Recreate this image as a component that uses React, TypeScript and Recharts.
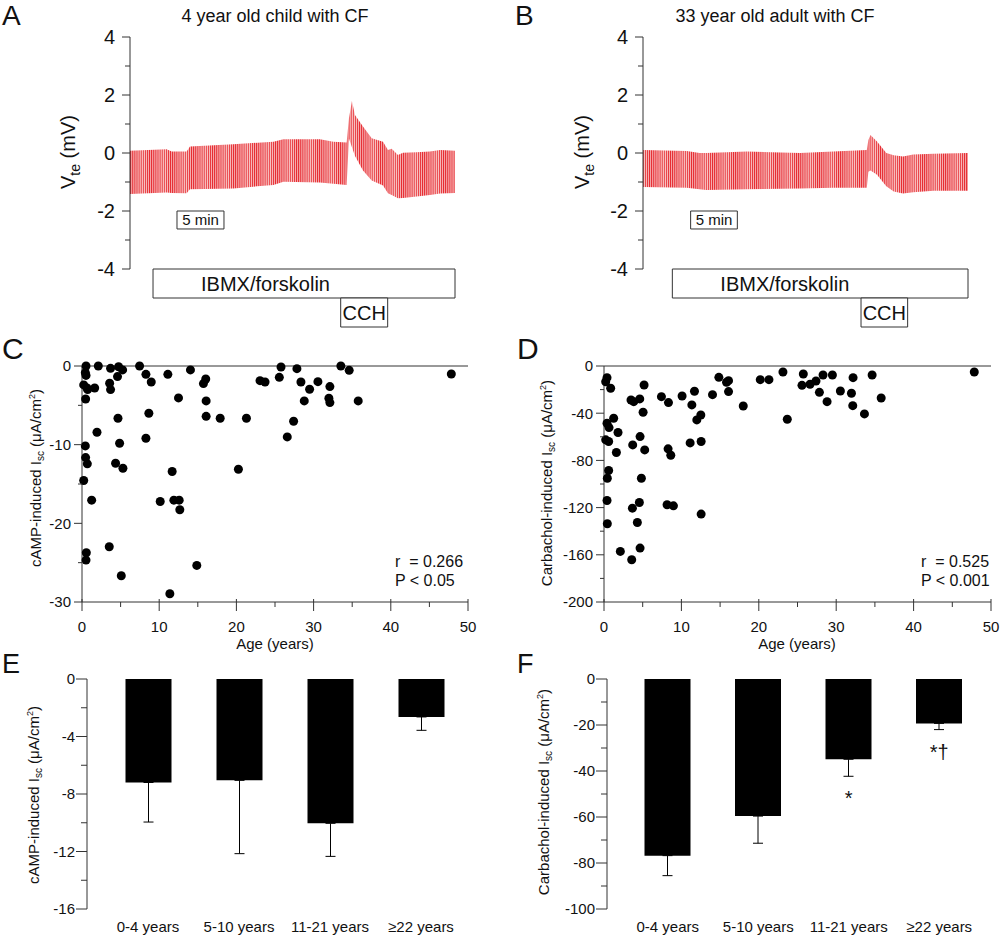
import React from "react";
import {
  ComposedChart, Area, XAxis, YAxis, ReferenceArea, ScatterChart, Scatter,
  ReferenceLine, BarChart, Bar, ErrorBar, ReferenceDot,
} from "recharts";

const FONT = "'Liberation Sans', Arial, Helvetica, sans-serif";
const AXIS = "#333";
const INK = "#111";

// A: 4 year old child, transepithelial voltage envelope (time in min, mV)
const childTime = [0, 3.95, 4.49, 6.1, 6.46, 11.13, 15.44, 16.52, 20.46, 21.9, 23.33, 23.58, 23.9, 24.23, 25.09, 26.03, 27.25, 27.78, 28.18, 28.86, 29.4, 30.87, 32.3, 33.4, 35];
const childHigh = [0.08, 0.13, 0.05, 0.05, 0.22, 0.3, 0.39, 0.47, 0.47, 0.39, 0.36, 1.2, 1.79, 1.31, 0.91, 0.51, 0.39, 0.1, 0.15, -0.07, 0.01, 0.03, 0.05, 0.1, 0.08];
const childLow = [-1.41, -1.36, -1.38, -1.39, -1.25, -1.22, -1.1, -0.99, -1.02, -1.06, -1.1, 0.5, 0.2, -0.1, -0.6, -0.95, -1.12, -1.39, -1.45, -1.56, -1.55, -1.5, -1.45, -1.4, -1.38];
const childIbmx = [2.48, 35];
const childCch = [22.69, 27.75];
const childScale = [5.06, 10.12];

// B: 33 year old adult
const adultTime = [0, 4.7, 6.1, 6.8, 11.2, 16.9, 20.5, 24.1, 24.27, 24.5, 25.2, 26.2, 27.0, 28.0, 29.1, 31.3, 35];
const adultHigh = [0.1, 0.07, 0.0, 0.0, 0.05, 0.0, 0.05, 0.1, 0.45, 0.62, 0.4, 0.0, -0.08, -0.12, -0.05, -0.03, 0.0];
const adultLow = [-1.17, -1.2, -1.25, -1.28, -1.25, -1.22, -1.2, -1.2, -0.65, -0.6, -0.75, -1.15, -1.33, -1.4, -1.35, -1.3, -1.3];
const adultIbmx = [3.16, 35];
const adultCch = [23.48, 28.5];
const adultScale = [5.13, 10.16];

const vteTicks = [-4, -3, -2, -1, 0, 1, 2, 3, 4];

// C: cAMP-induced Isc vs age
const campAge = [0.52, 0.43, 0.52, 0.22, 0.73, 0.65, 1.64, 0.47, 2.11, 3.7, 3.58, 3.7, 4.74, 4.6, 5.26, 7.46, 8.28, 8.97, 11.12, 14.05, 15.73, 16.03, 16.08, 16.08, 17.9, 21.3, 12.5, 1.94, 4.66, 4.87, 4.35, 5.3, 8.66, 8.28, 0.43, 0.47, 0.69, 0.22, 1.25, 0.56, 0.52, 3.53, 5.09, 10.13, 11.68, 11.9, 12.59, 12.67, 14.87, 11.38, 20.26, 23.06, 23.71, 25.56, 25.78, 27.84, 28.36, 28.79, 29.48, 30.56, 27.41, 26.59, 32.11, 31.98, 32.11, 33.53, 34.61, 35.78, 47.84];
const campIsc = [0, -0.85, -1.2, -2.4, -3.0, -2.8, -2.8, -4.2, 0, -0.3, -2.2, -3.0, -0.1, -1.35, -0.5, 0, -1.06, -2.03, -1.06, -0.5, -2.24, -1.65, -4.44, -6.4, -6.64, -6.64, -4.06, -8.42, -6.64, -9.82, -12.36, -13.0, -6.0, -9.18, -10.16, -11.64, -12.44, -14.56, -17.05, -23.74, -24.67, -22.98, -26.66, -17.22, -13.41, -17.05, -17.05, -18.28, -25.35, -28.95, -13.12, -1.86, -2.03, -1.44, -0.13, -0.34, -2.03, -4.44, -2.96, -1.99, -7.02, -9.01, -2.62, -4.1, -4.65, 0, -0.55, -4.44, -1.02];

// D: carbachol-induced Isc vs age
const cchAge = [0.39, 0.22, 0.86, 0.39, 0.65, 1.25, 0.22, 0.6, 1.81, 1.6, 0.6, 0.43, 0.39, 0.43, 2.11, 3.58, 3.71, 3.49, 3.84, 4.62, 5.18, 5.05, 4.66, 5.26, 4.83, 3.67, 4.57, 4.31, 4.66, 7.42, 8.33, 8.28, 8.63, 8.15, 8.97, 10.09, 11.69, 11.35, 11.13, 11.99, 12.51, 12.55, 12.55, 14.02, 14.84, 15.83, 16.09, 16.09, 17.99, 20.19, 21.31, 23.12, 23.68, 25.75, 25.58, 26.62, 27.39, 27.83, 28.3, 28.82, 29.51, 30.54, 31.97, 32.18, 32.14, 33.65, 34.64, 35.81, 47.84];
const cchIsc = [-9.9, -13.3, -18.9, -48.5, -52.2, -44.3, -62.6, -64.0, -56.4, -73.3, -88.6, -95.1, -114.0, -133.7, -157.1, -164.2, -66.9, -28.8, -30.2, -27.9, -16.1, -39.2, -59.8, -71.1, -95.1, -120.5, -115.7, -132.6, -154.3, -26.0, -31.0, -70.2, -75.6, -117.6, -118.5, -25.4, -21.4, -33.0, -65.2, -45.7, -41.5, -64.0, -125.5, -24.3, -9.6, -13.8, -12.4, -21.7, -33.9, -11.6, -11.6, -5.1, -45.1, -6.8, -16.4, -15.5, -12.7, -22.3, -7.6, -30.2, -7.6, -21.2, -23.1, -9.9, -33.6, -40.6, -7.6, -27.1, -5.1];

const ageTicks = [0, 5, 10, 15, 20, 25, 30, 35, 40, 45, 50];

// E, F: group means and SEM
const ageGroups = ["0-4 years", "5-10 years", "11-21 years", "\u226522 years"];
const campMean = [-7.2, -7.05, -10.04, -2.64];
const campSem = [2.75, 5.1, 2.3, 0.93];
const cchMean = [-76.8, -59.6, -34.9, -19.3];
const cchSem = [8.7, 11.8, 7.4, 2.7];
const cchMarks = ["", "", "*", "*\u2020"];

function yTick(every: number, major: number, minor: number, gap: number, size: number) {
  return (p: any) => {
    const v = Number(p.payload.value);
    const isMajor = Math.abs(v % every) < 1e-6;
    const len = isMajor ? major : minor;
    return (
      <g>
        <line x1={p.x - len} y1={p.y} x2={p.x} y2={p.y} stroke={AXIS} />
        {isMajor && (
          <text x={p.x - gap} y={p.y} dy="0.36em" textAnchor="end" fontSize={size} fontFamily={FONT} fill={INK}>
            {v}
          </text>
        )}
      </g>
    );
  };
}

function ageTick(p: any) {
  const v = Number(p.payload.value);
  const isMajor = v % 10 === 0;
  return (
    <g>
      <line x1={p.x} y1={isMajor ? p.y - 3 : p.y} x2={p.x} y2={p.y + (isMajor ? 9 : 5)} stroke={AXIS} />
      {isMajor && (
        <text x={p.x} y={p.y + 30} textAnchor="middle" fontSize={15} fontFamily={FONT} fill={INK}>{v}</text>
      )}
    </g>
  );
}

function groupTick(p: any) {
  return (
    <text x={p.x} y={p.y + 23} textAnchor="middle" fontSize={15} fontFamily={FONT} fill={INK}>
      {p.payload.value}
    </text>
  );
}

function IscLabel({ x, y, drug }: { x: number; y: number; drug: string }) {
  return (
    <text x={x} y={y} transform={`rotate(-90 ${x} ${y})`} textAnchor="middle" fontSize={15} fontFamily={FONT} fill={INK}>
      {drug}-induced I<tspan fontSize={10} dy={3}>sc</tspan>
      <tspan dy={-3}> (μA/cm</tspan>
      <tspan fontSize={9} dy={-6}>2</tspan>
      <tspan dy={6}>)</tspan>
    </text>
  );
}

function Letter({ x, y, c, size = 28 }: { x: number; y: number; c: string; size?: number }) {
  return (
    <text x={x} y={y} fontSize={size} fontFamily={FONT} fill={INK}>{c}</text>
  );
}

function boxLabel(text: string, mode: "left" | "center", size: number) {
  return (p: any) => {
    const vb = p.viewBox;
    const x = mode === "left" ? vb.x + 48 : vb.x + vb.width / 2;
    return (
      <text x={x} y={vb.y + vb.height / 2} dy="0.36em" textAnchor={mode === "left" ? "start" : "middle"}
        fontSize={size} fontFamily={FONT} fill={INK}>
        {text}
      </text>
    );
  };
}

type TraceProps = {
  left: number; width: number; axisW: number; right: number; id: string;
  letter: string; letterX: number; title: string; labelX: number;
  time: number[]; high: number[]; low: number[];
  ibmx: number[]; cch: number[]; scaleBar: number[];
};

function TracePanel(t: TraceProps) {
  const data = t.time.map((m, i) => ({ t: m, band: [t.low[i], t.high[i]] }));
  const texts = () => (
    <g>
      <Letter x={t.letterX} y={25} c={t.letter} />
      <text x={275} y={22} textAnchor="middle" fontSize={18} fontFamily={FONT} fill={INK}>{t.title}</text>
      <text x={t.labelX} y={152} transform={`rotate(-90 ${t.labelX} 152)`} textAnchor="middle" fontSize={20} fontFamily={FONT} fill={INK}>
        V<tspan fontSize={14} dy={5}>te</tspan><tspan dy={-5}> (mV)</tspan>
      </text>
    </g>
  );
  return (
    <div style={{ position: "absolute", left: t.left, top: 0 }}>
      <ComposedChart width={t.width} height={340} data={data} margin={{ top: 37, right: t.right, bottom: 71, left: 0 }}>
        <defs>
          <pattern id={t.id} patternUnits="userSpaceOnUse" width={2.1} height={10}>
            <rect width={2.1} height={10} fill="#f8c6c6" />
            <rect width={1.0} height={10} fill="#e6262d" />
          </pattern>
        </defs>
        <XAxis type="number" dataKey="t" domain={[0, 35]} hide />
        <YAxis type="number" domain={[-4, 4]} ticks={vteTicks} interval={0} width={t.axisW}
          tickSize={0} tickMargin={0} tickLine={false} axisLine={{ stroke: AXIS }}
          tick={yTick(2, 8, 5, 15, 20)} label={texts} />
        <Area type="linear" dataKey="band" stroke="none" fill={`url(#${t.id})`} fillOpacity={1} isAnimationActive={false} />
        <ReferenceArea x1={t.scaleBar[0]} x2={t.scaleBar[1]} y1={-2.0} y2={-2.62} fill="#fff" fillOpacity={1}
          stroke={AXIS} ifOverflow="visible" label={boxLabel("5 min", "center", 15)} />
        <ReferenceArea x1={t.ibmx[0]} x2={t.ibmx[1]} y1={-4} y2={-5} fill="#fff" fillOpacity={1}
          stroke={AXIS} ifOverflow="visible" label={boxLabel("IBMX/forskolin", "left", 20)} />
        <ReferenceArea x1={t.cch[0]} x2={t.cch[1]} y1={-5} y2={-6} fill="#fff" fillOpacity={1}
          stroke={AXIS} ifOverflow="visible" label={boxLabel("CCH", "center", 20)} />
      </ComposedChart>
    </div>
  );
}

type ScatterProps = {
  left: number; width: number; axisW: number; right: number;
  letter: string; letterX: number; labelX: number; labelY: number; drug: string;
  ages: number[]; values: number[]; domainMin: number; ticks: number[]; every: number;
  r: string; p: string; statX: number; ageX: number;
};

function ScatterPanel(s: ScatterProps) {
  const points = s.ages.map((a, i) => ({ age: a, isc: s.values[i] }));
  const texts = () => (
    <g>
      <Letter x={s.letterX} y={29} c={s.letter} size={30} />
      <IscLabel x={s.labelX} y={s.labelY} drug={s.drug} />
      <text x={s.statX} y={237} fontSize={16} fontFamily={FONT} fill={INK} style={{ whiteSpace: "pre" }}>{s.r}</text>
      <text x={s.statX} y={256} fontSize={16} fontFamily={FONT} fill={INK}>{s.p}</text>
      <text x={s.ageX} y={319} textAnchor="middle" fontSize={15} fontFamily={FONT} fill={INK}>Age (years)</text>
    </g>
  );
  return (
    <div style={{ position: "absolute", left: s.left, top: 330 }}>
      <ScatterChart width={s.width} height={330} margin={{ top: 36, right: s.right, bottom: 0, left: 0 }}>
        <XAxis type="number" dataKey="age" domain={[0, 50]} ticks={ageTicks} interval={0} height={58}
          tickSize={0} tickMargin={0} tickLine={false} axisLine={{ stroke: AXIS }} tick={ageTick} />
        <YAxis type="number" dataKey="isc" domain={[s.domainMin, 0]} ticks={s.ticks} interval={0} width={s.axisW}
          tickSize={0} tickMargin={0} tickLine={false} axisLine={{ stroke: AXIS }}
          tick={yTick(s.every, 8, 4, 11, 15)} label={texts} />
        <ReferenceLine y={0} stroke={AXIS} />
        <Scatter data={points} fill="#000" isAnimationActive={false}
          shape={(p: any) => <circle cx={p.cx} cy={p.cy} r={4.5} fill="#000" />} />
      </ScatterChart>
    </div>
  );
}

type BarProps = {
  left: number; width: number; axisW: number; right: number;
  letter: string; letterX: number; labelX: number; labelY: number; drug: string;
  means: number[]; sems: number[]; marks?: string[]; domainMin: number; ticks: number[]; every: number;
};

function BarPanel(b: BarProps) {
  const data = ageGroups.map((g, i) => ({ group: g, mean: b.means[i], err: [b.sems[i], 0] }));
  const texts = () => (
    <g>
      <Letter x={b.letterX} y={23} c={b.letter} size={27} />
      <IscLabel x={b.labelX} y={b.labelY} drug={b.drug} />
    </g>
  );
  return (
    <div style={{ position: "absolute", left: b.left, top: 650 }}>
      <BarChart width={b.width} height={289} data={data} margin={{ top: 29, right: b.right, bottom: 0, left: 0 }}>
        <XAxis dataKey="group" height={30} padding={{ left: 15.5, right: 15.5 }} axisLine={false}
          tickLine={false} tickSize={0} tickMargin={0} interval={0} tick={groupTick} />
        <XAxis xAxisId="top" dataKey="group" orientation="top" height={0} tick={false} tickLine={false}
          axisLine={{ stroke: AXIS }} />
        <YAxis type="number" domain={[b.domainMin, 0]} ticks={b.ticks} interval={0} width={b.axisW}
          tickSize={0} tickMargin={0} tickLine={false} axisLine={{ stroke: AXIS }}
          tick={yTick(b.every, 11, 6, 12, 15)} label={texts} />
        <Bar dataKey="mean" fill="#000" barSize={46} isAnimationActive={false}>
          <ErrorBar dataKey="err" width={5} stroke="#000" strokeWidth={1} direction="y" />
        </Bar>
        {(b.marks || []).map((m, i) =>
          m ? (
            <ReferenceDot key={m + i} x={ageGroups[i]} y={b.means[i] - b.sems[i]} r={0} fill="none" stroke="none"
              label={(p: any) => (
                <text x={p.viewBox.x} y={p.viewBox.y + 29} textAnchor="middle" fontSize={20} fontFamily={FONT} fill={INK}>{m}</text>
              )} />
          ) : null
        )}
      </BarChart>
    </div>
  );
}

export default function App() {
  return (
    <div style={{ position: "absolute", left: 0, top: 0, width: 1003, height: 939, background: "#fff", fontFamily: FONT, overflow: "hidden" }}>
      <TracePanel left={0} width={470} axisW={130} right={15} id="stripeChild" letter="A" letterX={2}
        title="4 year old child with CF" labelX={75} time={childTime} high={childHigh} low={childLow}
        ibmx={childIbmx} cch={childCch} scaleBar={childScale} />
      <TracePanel left={500} width={490} axisW={143} right={22} id="stripeAdult" letter="B" letterX={15}
        title="33 year old adult with CF" labelX={89} time={adultTime} high={adultHigh} low={adultLow}
        ibmx={adultIbmx} cch={adultCch} scaleBar={adultScale} />
      <ScatterPanel left={0} width={490} axisW={82} right={22} letter="C" letterX={2} labelX={41} labelY={148}
        drug="cAMP" ages={campAge} values={campIsc} domainMin={-30} ticks={[-30, -25, -20, -15, -10, -5, 0]} every={10}
        r={"r  = 0.266"} p="P < 0.05" statX={395} ageX={275} />
      <ScatterPanel left={500} width={503} axisW={104} right={12} letter="D" letterX={17} labelX={52} labelY={153}
        drug="Carbachol" ages={cchAge} values={cchIsc} domainMin={-200}
        ticks={[-200, -180, -160, -140, -120, -100, -80, -60, -40, -20, 0]} every={40}
        r={"r  = 0.525"} p="P < 0.001" statX={421} ageX={297} />
      <BarPanel left={0} width={500} axisW={87} right={18} letter="E" letterX={2} labelX={39} labelY={145}
        drug="cAMP" means={campMean} sems={campSem} domainMin={-16}
        ticks={[-16, -14, -12, -10, -8, -6, -4, -2, 0]} every={4} />
      <BarPanel left={500} width={503} axisW={107} right={3} letter="F" letterX={17} labelX={49} labelY={142}
        drug="Carbachol" means={cchMean} sems={cchSem} marks={cchMarks} domainMin={-100}
        ticks={[-100, -90, -80, -70, -60, -50, -40, -30, -20, -10, 0]} every={20} />
    </div>
  );
}
